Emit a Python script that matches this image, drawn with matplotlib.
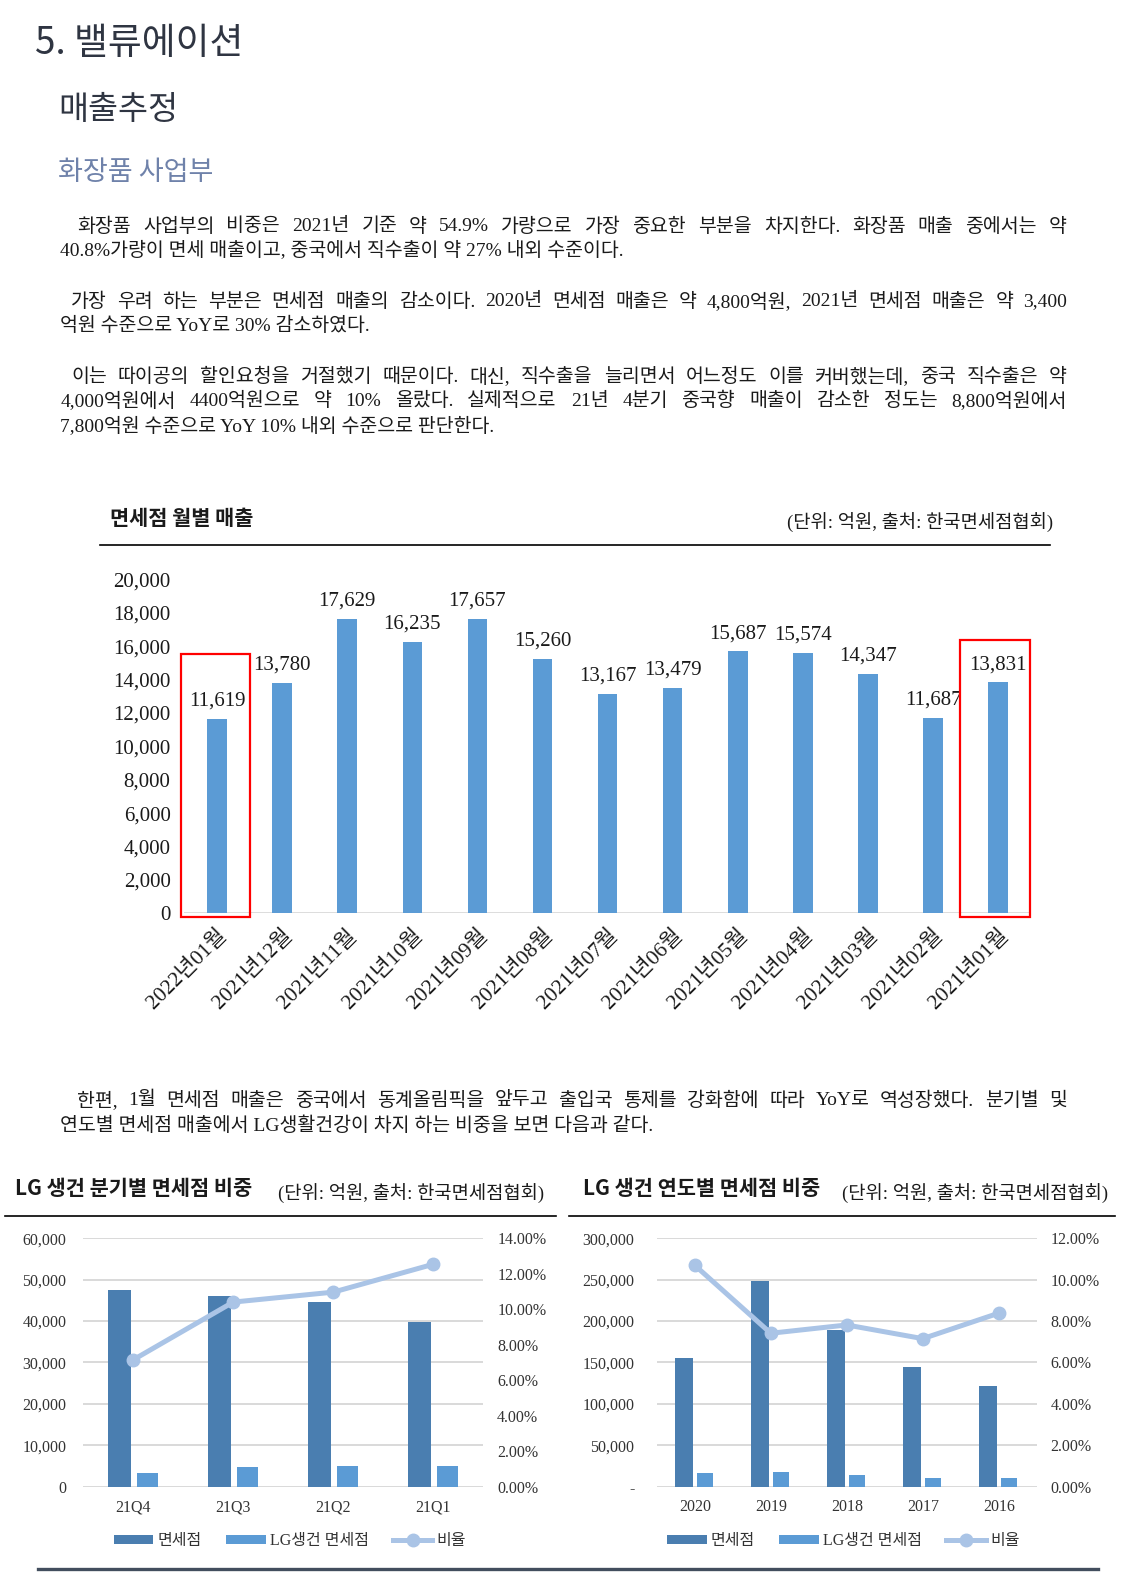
import matplotlib
matplotlib.use('Agg')
import matplotlib.pyplot as plt
from matplotlib.patches import Rectangle
from matplotlib.lines import Line2D
from matplotlib.ticker import FuncFormatter, MultipleLocator
from matplotlib.transforms import ScaledTranslation
import numpy as np

SERIF_KR = ['Liberation Serif', 'Noto Sans CJK KR']
SANS_KR = ['Noto Sans CJK KR', 'DejaVu Sans']
plt.rcParams['font.family'] = SERIF_KR

# monthly duty-free sales (억원)
months = ['2022년01월', '2021년12월', '2021년11월', '2021년10월', '2021년09월', '2021년08월',
          '2021년07월', '2021년06월', '2021년05월', '2021년04월', '2021년03월', '2021년02월',
          '2021년01월']
monthly_sales = [11619, 13780, 17629, 16235, 17657, 15260, 13167, 13479, 15687, 15574,
                 14347, 11687, 13831]

# quarterly
quarters = ['21Q4', '21Q3', '21Q2', '21Q1']
q_total = [47500, 46100, 44600, 39800]
q_lg = [3300, 4750, 4950, 4950]
q_ratio = [0.0715, 0.1040, 0.1096, 0.1253]

# yearly
years = ['2020', '2019', '2018', '2017', '2016']
y_total = [154800, 248000, 189200, 144800, 122000]
y_lg = [16400, 17600, 14000, 10400, 10400]
y_ratio = [0.1069, 0.0741, 0.0781, 0.0715, 0.0838]

legend_labels = ['면세점', 'LG생건 면세점', '비율']

paragraphs = [
    [("화장품 사업부의 비중은 2021년 기준 약 54.9% 가량으로 가장 중요한 부분을 차지한다. 화장품 매출 중에서는 약", 77, 226, True),
     ("40.8%가량이 면세 매출이고, 중국에서 직수출이 약 27% 내외 수준이다.", 60, 250, False)],
    [("가장 우려 하는 부분은 면세점 매출의 감소이다. 2020년 면세점 매출은 약 4,800억원, 2021년 면세점 매출은 약 3,400", 71, 301, True),
     ("억원 수준으로 YoY로 30% 감소하였다.", 60, 325, False)],
    [("이는 따이공의 할인요청을 거절했기 때문이다. 대신, 직수출을 늘리면서 어느정도 이를 커버했는데, 중국 직수출은 약", 71, 376, True),
     ("4,000억원에서 4400억원으로 약 10% 올랐다. 실제적으로 21년 4분기 중국향 매출이 감소한 정도는 8,800억원에서", 60, 400, True),
     ("7,800억원 수준으로 YoY 10% 내외 수준으로 판단한다.", 60, 425, False)],
    [("한편, 1월 면세점 매출은 중국에서 동계올림픽을 앞두고 출입국 통제를 강화함에 따라 YoY로 역성장했다. 분기별 및", 77, 1098, True),
     ("연도별 면세점 매출에서 LG생활건강이 차지 하는 비중을 보면 다음과 같다.", 60, 1123, False)],
]

W, H = 1120, 1568
DARK = '#4a7eb0'
LIGHT = '#5b9bd5'
LINE = '#aac4e6'
GRID = '#d9d9d9'
TICK = '#333333'


def fx(x):
    return x / W


def fy(y):
    return 1 - y / H


fig = plt.figure(figsize=(11.23, 15.72), dpi=100)
renderer = fig.canvas.get_renderer()


def add_ax(x0, y0, x1, y1):
    return fig.add_axes([fx(x0), fy(y1), fx(x1) - fx(x0), fy(y0) - fy(y1)])


def justify(text, x0, x1, y, **kw):
    words = text.split(' ')
    objs = [fig.text(0, fy(y), w, va='center', **kw) for w in words]
    widths = [o.get_window_extent(renderer).width / fig.bbox.width for o in objs]
    gap = (fx(x1) - fx(x0) - sum(widths)) / (len(words) - 1)
    pos = fx(x0)
    for o, w in zip(objs, widths):
        o.set_x(pos)
        pos += w + gap


# headings
fig.text(fx(35), fy(43), '5. 밸류에이션', fontsize=26.5, family=SANS_KR, color='#2f3542', va='center')
fig.text(fx(58), fy(110), '매출추정', fontsize=23.5, family=SANS_KR, color='#2f3542', va='center')
fig.text(fx(58), fy(172), '화장품 사업부', fontsize=19.5, family=SANS_KR, color='#6f82aa', va='center')

body_kw = dict(fontsize=14, color='#1a1a1a')
for para in paragraphs:
    for line, x0, y, just in para:
        if just:
            justify(line, x0, 1064, y, **body_kw)
        else:
            fig.text(fx(x0), fy(y), line, va='center', **body_kw)

# ---- monthly chart ----
fig.text(fx(110), fy(517), '면세점 월별 매출', fontsize=15, family=SANS_KR, weight='bold',
         color='#1a1a1a', va='center')
fig.text(fx(1050), fy(522), '(단위: 억원, 출처: 한국면세점협회)', fontsize=13.5, color='#1a1a1a',
         va='center', ha='right')
fig.add_artist(Line2D([fx(100), fx(1047)], [fy(544), fy(544)], color='black', lw=1.2))

ax = add_ax(184, 578, 1028, 911)
xs = np.arange(len(months))
ax.bar(xs, monthly_sales, width=0.3, color=LIGHT, zorder=2)
for x, v in zip(xs, monthly_sales):
    ax.annotate(f'{v:,}', (x, v), xytext=(0, 6), textcoords='offset points',
                ha='center', va='bottom', fontsize=15, color='#1a1a1a')
ax.set_ylim(0, 20000)
ax.set_xlim(-0.5, len(months) - 0.5)
ax.yaxis.set_major_locator(MultipleLocator(2000))
ax.yaxis.set_major_formatter(FuncFormatter(lambda v, p: f'{v:,.0f}'))
ax.tick_params(axis='y', length=0, pad=10, labelsize=15, labelcolor='#1a1a1a')
ax.set_xticks(xs)
ax.set_xticklabels(months, rotation=45, ha='right', va='center', rotation_mode='anchor', fontsize=15.5)
ax.tick_params(axis='x', length=0, pad=14, labelcolor='#1a1a1a')
for lab in ax.get_xticklabels():
    lab.set_transform(lab.get_transform() + ScaledTranslation(5 / 72, 0, fig.dpi_scale_trans))
for s in ax.spines.values():
    s.set_visible(False)
ax.axhline(0, color=GRID, lw=2, zorder=1)
ax.add_patch(Rectangle((-0.546, -240), 1.047, 15800, fill=False, ec='red', lw=1.6, clip_on=False, zorder=3))
ax.add_patch(Rectangle((11.42, -240), 1.065, 16640, fill=False, ec='red', lw=1.6, clip_on=False, zorder=3))


# ---- bottom charts ----
def combo(box, cats, total, lg, ratio, ymax, ystep, rmax, title, title_x, unit_x, rule,
          leg_x, dash_zero, lpad, rpad):
    fig.text(fx(title_x), fy(1185), title, fontsize=15, family=SANS_KR, weight='bold',
             color='#1a1a1a', va='center')
    fig.text(fx(unit_x), fy(1191), '(단위: 억원, 출처: 한국면세점협회)', fontsize=13.5, color='#1a1a1a',
             va='center', ha='right')
    fig.add_artist(Line2D([fx(rule[0]), fx(rule[1])], [fy(1213), fy(1213)], color='black', lw=1.2))

    a = add_ax(*box)
    x = np.arange(len(cats))
    b1 = a.bar(x - 0.14, total, width=0.23, color=DARK, zorder=2)
    b2 = a.bar(x + 0.14, lg, width=0.21, color=LIGHT, zorder=2)
    a.set_ylim(0, ymax)
    a.set_xlim(-0.5, len(cats) - 0.5)
    a.yaxis.set_major_locator(MultipleLocator(ystep))
    if dash_zero:
        a.yaxis.set_major_formatter(FuncFormatter(lambda v, p: '-' if v == 0 else f'{v:,.0f}'))
    else:
        a.yaxis.set_major_formatter(FuncFormatter(lambda v, p: f'{v:,.0f}'))
    a.yaxis.grid(True, color=GRID, lw=1.4)
    a.set_axisbelow(True)
    a.set_xticks(x)
    a.set_xticklabels(cats)
    a.tick_params(length=0, labelsize=11.5, labelcolor=TICK)
    a.tick_params(axis='y', pad=lpad)
    a.tick_params(axis='x', pad=9)
    for s in a.spines.values():
        s.set_visible(False)

    r = a.twinx()
    ln, = r.plot(x, ratio, color=LINE, lw=3.6, marker='o', ms=9, zorder=3)
    r.set_ylim(0, rmax)
    r.yaxis.set_major_locator(MultipleLocator(0.02))
    r.yaxis.set_major_formatter(FuncFormatter(lambda v, p: f'{v:.2%}'))
    r.tick_params(length=0, labelsize=11.5, labelcolor=TICK, pad=rpad)
    for s in r.spines.values():
        s.set_visible(False)

    fig.legend([b1, b2, ln], legend_labels, loc='center', bbox_to_anchor=(fx(leg_x), fy(1537)),
               ncol=3, frameon=False, fontsize=11.5, handlelength=2.5, handleheight=0.45,
               handletextpad=0.25, columnspacing=1.5, labelcolor=TICK)


combo((83, 1235, 482, 1483), quarters, q_total, q_lg, q_ratio, 60000, 10000, 0.14,
      'LG 생건 분기별 면세점 비중', 15, 543, (5, 555), 289, False, 12, 10)
combo((655, 1235, 1034, 1483), years, y_total, y_lg, y_ratio, 300000, 50000, 0.12,
      'LG 생건 연도별 면세점 비중', 581, 1105, (567, 1112), 841, True, 16, 10)

fig.add_artist(Line2D([fx(38), fx(1095)], [fy(1565), fy(1565)], color='#424e5e', lw=2.4))

fig.savefig('out.png', dpi=100)
